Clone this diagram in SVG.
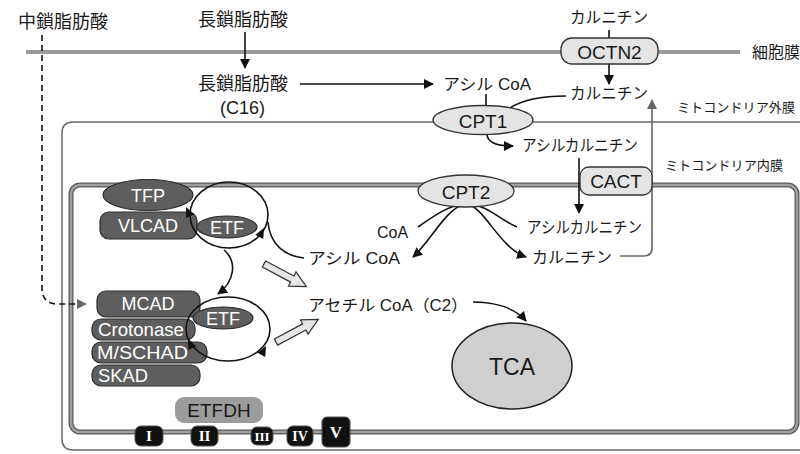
<svg xmlns="http://www.w3.org/2000/svg" xmlns:xlink="http://www.w3.org/1999/xlink" width="800" height="454" viewBox="0 0 800 454">
  <defs>
    <marker id="arrow" viewBox="0 0 10 10" refX="9" refY="5" markerWidth="10" markerHeight="10" markerUnits="userSpaceOnUse" orient="auto">
      <path d="M0,0 L10,5 L0,10 Z" fill="#111"/>
    </marker>
    <marker id="arrowGray" viewBox="0 0 10 10" refX="9" refY="5" markerWidth="10" markerHeight="10" markerUnits="userSpaceOnUse" orient="auto">
      <path d="M0,0 L10,5 L0,10 Z" fill="#666"/>
    </marker>
    <marker id="arrowStart" viewBox="0 0 10 10" refX="1" refY="5" markerWidth="10" markerHeight="10" markerUnits="userSpaceOnUse" orient="auto">
      <path d="M10,0 L0,5 L10,10 Z" fill="#111"/>
    </marker>
    <path id="head" d="M0,0 L-10,-4.5 L-10,4.5 Z" fill="#111"/>
    <polygon id="hollow" points="0,-3.5 32,-3.5 32,-8 48,0 32,8 32,3.5 0,3.5" fill="#e6e6e6" stroke="#333" stroke-width="1.2" stroke-linejoin="miter"/>
  </defs>
  <style>
    text { font-family: "Liberation Sans", "Noto Sans CJK JP", sans-serif; fill: #1a1a1a; dominant-baseline: central; }
    .jp { font-size: 16px; }
    .kanji { font-size: 18px; }
    .small { font-size: 13px; }
    .enz { fill: #5e5e5e; stroke: #2b2b2b; stroke-width: 1.2; }
    .enzText { fill: #ffffff; font-size: 18px; text-anchor: middle; }
    .tp { fill: #e4e4e4; stroke: #333; stroke-width: 1.3; }
    .tpText { font-size: 19px; text-anchor: middle; }
    .line { fill: none; stroke: #111; stroke-width: 1.6; }
    .cx { fill: #111; stroke: #555; stroke-width: 1; }
    .cxText { fill: #fff; font-family: "Liberation Serif", serif; font-weight: bold; font-size: 15px; text-anchor: middle; }
  </style>

  <!-- membranes -->
  <g id="membranes">
    <line x1="26" y1="52" x2="740" y2="52" stroke="#9a9a9a" stroke-width="4"/>
    <path d="M800,122 H73 Q62,122 62,133 V439 Q62,450 73,450 H800" fill="none" stroke="#6a6a6a" stroke-width="1.5"/>
    <rect x="71" y="185" width="726" height="247" rx="9" fill="none" stroke="#5a5a5a" stroke-width="5"/>
    <rect x="71" y="185" width="726" height="247" rx="9" fill="none" stroke="#a0a0a0" stroke-width="2.5"/>
  </g>

  <!-- membrane labels and metabolite labels -->
  <g id="labels">
    <text x="18" y="22" class="kanji">中鎖脂肪酸</text>
    <text x="198" y="20" class="kanji">長鎖脂肪酸</text>
    <text x="198" y="84" class="kanji">長鎖脂肪酸</text>
    <text x="220" y="108" class="kanji">(C16)</text>
    <text x="570" y="17" class="jp" textLength="78" lengthAdjust="spacingAndGlyphs">カルニチン</text>
    <text x="752" y="52" class="jp">細胞膜</text>
    <text x="443" y="84" class="jp" textLength="88" lengthAdjust="spacingAndGlyphs">アシル CoA</text>
    <text x="570" y="93" class="jp" textLength="78" lengthAdjust="spacingAndGlyphs">カルニチン</text>
    <text x="677" y="107" class="small" textLength="118" lengthAdjust="spacingAndGlyphs">ミトコンドリア外膜</text>
    <text x="522" y="145" class="jp" textLength="116" lengthAdjust="spacingAndGlyphs">アシルカルニチン</text>
    <text x="665" y="165" class="small" textLength="118" lengthAdjust="spacingAndGlyphs">ミトコンドリア内膜</text>
    <text x="377" y="232" class="jp">CoA</text>
    <text x="308" y="258" class="jp" textLength="92" lengthAdjust="spacingAndGlyphs">アシル CoA</text>
    <text x="527" y="227" class="jp" textLength="115" lengthAdjust="spacingAndGlyphs">アシルカルニチン</text>
    <text x="532" y="257" class="jp" textLength="80" lengthAdjust="spacingAndGlyphs">カルニチン</text>
    <text x="308" y="305" class="jp" textLength="160" lengthAdjust="spacingAndGlyphs">アセチル CoA（C2）</text>
  </g>

  <!-- connectors -->
  <g id="connectors">
    <path class="line" d="M42,35 V288 Q42,304 58,304 H86" stroke-dasharray="6 4" stroke-width="2" marker-end="url(#arrowGray)"/>
    <line class="line" x1="245" y1="32" x2="245" y2="68" marker-end="url(#arrow)"/>
    <line class="line" x1="300" y1="84" x2="433" y2="84" marker-end="url(#arrow)"/>
    <line class="line" x1="609" y1="30" x2="609" y2="38"/>
    <line class="line" x1="609" y1="64" x2="609" y2="84" marker-end="url(#arrow)"/>
    <line class="line" x1="486" y1="94" x2="486" y2="106"/>
    <path class="line" d="M510,108 Q528,96 566,96"/>
    <path class="line" d="M487,134 Q487,146 513,146" marker-end="url(#arrow)"/>
    <line class="line" x1="579" y1="158" x2="579" y2="213" marker-end="url(#arrow)"/>
    <path d="M620,256 H644 Q652,256 652,248 V100" fill="none" stroke="#666" stroke-width="1.6" marker-end="url(#arrowGray)"/>
    <!-- CPT2 reactions -->
    <path class="line" d="M418,227 C435,215 450,205 464,204"/>
    <path class="line" d="M464,204 C445,210 430,242 413,257" marker-end="url(#arrow)"/>
    <path class="line" d="M468,204 C488,205 500,220 517,227"/>
    <path class="line" d="M468,204 C486,210 500,248 526,257" marker-end="url(#arrow)"/>
    <!-- acyl-CoA into the ETF cycle -->
    <path class="line" d="M304,258 C285,256 270,245 268,222"/>
    <!-- exchange between the two ETF cycles -->
    <path class="line" d="M224,250 C238,262 234,282 218,294" marker-end="url(#arrow)"/>
    <!-- acetyl-CoA to TCA -->
    <path class="line" d="M473,302 C495,302 515,308 526,321" marker-end="url(#arrow)"/>
    <!-- hollow arrows -->
    <use xlink:href="#hollow" transform="translate(264,264) rotate(28)"/>
    <use xlink:href="#hollow" transform="translate(276,342) rotate(-28)"/>
  </g>

  <!-- transporters and carnitine palmitoyltransferases -->
  <g id="octn2">
    <rect class="tp" x="561" y="38" width="97" height="26" rx="11"/>
    <text class="tpText" x="609.5" y="52">OCTN2</text>
  </g>
  <g id="cpt1">
    <ellipse class="tp" cx="483" cy="120" rx="50" ry="14.5"/>
    <text class="tpText" x="483" y="121">CPT1</text>
  </g>
  <g id="cact">
    <rect class="tp" x="580" y="167" width="72" height="28" rx="9"/>
    <text class="tpText" x="616" y="181">CACT</text>
  </g>
  <g id="cpt2">
    <ellipse class="tp" cx="466" cy="191" rx="48" ry="16"/>
    <text class="tpText" x="466" y="192">CPT2</text>
  </g>

  <!-- long-chain beta-oxidation -->
  <g id="vlcad">
    <rect class="enz" x="100" y="212" width="97" height="27" rx="9"/>
    <text class="enzText" x="148" y="226">VLCAD</text>
  </g>
  <g id="tfp">
    <ellipse class="enz" cx="148" cy="195" rx="45" ry="15.5"/>
    <text class="enzText" x="148" y="196">TFP</text>
  </g>
  <g id="etf1">
    <ellipse class="enz" cx="227" cy="227" rx="30" ry="11"/>
    <text class="enzText" x="227" y="228">ETF</text>
    <ellipse cx="229" cy="215" rx="39" ry="33" fill="none" stroke="#111" stroke-width="1.6"/>
    <use xlink:href="#head" transform="translate(186,207) rotate(-115)"/>
    <use xlink:href="#head" transform="translate(264,228) rotate(-62)"/>
  </g>

  <!-- medium/short-chain beta-oxidation -->
  <g id="skad">
    <rect class="enz" x="92" y="365" width="108" height="21" rx="9"/>
    <text class="enzText" x="98" y="376" style="text-anchor:start" textLength="50" lengthAdjust="spacingAndGlyphs">SKAD</text>
  </g>
  <g id="mschad">
    <rect class="enz" x="92" y="342" width="115" height="21" rx="9"/>
    <text class="enzText" x="97" y="353" style="text-anchor:start" textLength="91" lengthAdjust="spacingAndGlyphs">M/SCHAD</text>
  </g>
  <g id="crotonase">
    <rect class="enz" x="92" y="319" width="103" height="21" rx="9"/>
    <text class="enzText" x="98" y="330" style="text-anchor:start" textLength="86" lengthAdjust="spacingAndGlyphs">Crotonase</text>
  </g>
  <g id="mcad">
    <rect class="enz" x="97" y="291" width="103" height="26" rx="9"/>
    <text class="enzText" x="148" y="304">MCAD</text>
  </g>
  <g id="etf2">
    <ellipse class="enz" cx="223" cy="318" rx="30" ry="11"/>
    <text class="enzText" x="223" y="319">ETF</text>
    <ellipse cx="228" cy="329" rx="42" ry="32" fill="none" stroke="#111" stroke-width="1.6"/>
    <use xlink:href="#head" transform="translate(188,339) rotate(-115)"/>
    <use xlink:href="#head" transform="translate(266,346) rotate(-62)"/>
  </g>

  <!-- TCA cycle -->
  <g id="tca">
    <ellipse cx="512" cy="366" rx="60" ry="43" fill="#cfcfcf" stroke="#222" stroke-width="1.5"/>
    <text x="512" y="367" style="font-size:23px;text-anchor:middle">TCA</text>
  </g>

  <!-- electron transfer flavoprotein dehydrogenase and respiratory chain -->
  <g id="etfdh">
    <rect x="175" y="397" width="88" height="26" rx="9" fill="#9c9c9c"/>
    <text x="219" y="410" style="font-size:19px;text-anchor:middle">ETFDH</text>
  </g>
  <g id="complex1">
    <rect class="cx" x="135" y="426" width="28" height="20" rx="6"/>
    <text class="cxText" x="149" y="436">I</text>
  </g>
  <g id="complex2">
    <rect class="cx" x="191" y="426" width="27" height="20" rx="6"/>
    <text class="cxText" x="204.5" y="436">II</text>
  </g>
  <g id="complex3">
    <rect class="cx" x="251" y="427" width="22" height="18" rx="6"/>
    <text class="cxText" x="262" y="436" style="font-size:13px">III</text>
  </g>
  <g id="complex4">
    <rect class="cx" x="287" y="426" width="26" height="20" rx="6"/>
    <text class="cxText" x="300" y="436" style="font-size:14px">IV</text>
  </g>
  <g id="complex5">
    <rect class="cx" x="322" y="417" width="28" height="30" rx="5"/>
    <text class="cxText" x="336" y="432" style="font-size:17px">V</text>
  </g>
</svg>
